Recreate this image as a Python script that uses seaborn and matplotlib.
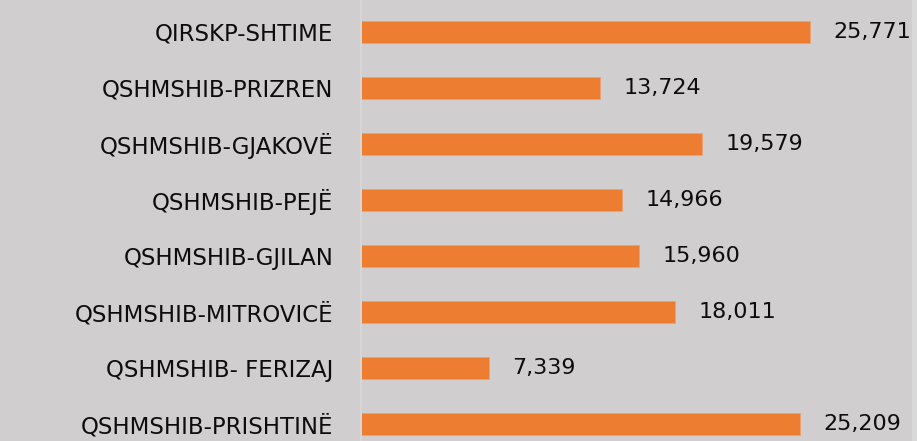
import matplotlib
matplotlib.use("Agg")
import matplotlib.pyplot as plt
import seaborn as sns
import pandas as pd
from matplotlib.patches import Rectangle

categories = [
    "QIRSKP-SHTIME",
    "QSHMSHIB-PRIZREN",
    "QSHMSHIB-GJAKOVË",
    "QSHMSHIB-PEJË",
    "QSHMSHIB-GJILAN",
    "QSHMSHIB-MITROVICË",
    "QSHMSHIB- FERIZAJ",
    "QSHMSHIB-PRISHTINË",
]
values = [25771, 13724, 19579, 14966, 15960, 18011, 7339, 25209]

BG = "#d0cece"
BAR = "#ed7d31"

sns.set_theme(style="white")
plt.rcParams["font.family"] = ["DejaVu Sans"]

df = pd.DataFrame({"cat": categories, "val": values})

fig = plt.figure(figsize=(9.17, 4.41), dpi=100, facecolor=BG)
ax = fig.add_axes([361 / 917, 0, (913 - 361) / 917, 1])
ax.set_facecolor(BG)

sns.barplot(data=df, x="val", y="cat", orient="h", color=BAR,
            width=0.4, saturation=1, ax=ax, order=categories,
            edgecolor="#f0a070", linewidth=0.6)

ax.set_xlim(0, 31690)
ax.set_ylim(7.30, -0.566)
ax.set_xlabel("")
ax.set_ylabel("")
ax.set_xticks([])
for s in ["top", "right", "bottom"]:
    ax.spines[s].set_visible(False)
ax.spines["left"].set_color("#d9d9d9")
ax.spines["left"].set_linewidth(1.3)

ax.tick_params(axis="y", length=0, pad=20, labelsize=16.5, labelcolor="#0d0d0d")

for cont in ax.containers:
    ax.bar_label(cont, labels=[f"{v:,.0f}" for v in values], padding=17,
                 fontsize=16, color="#0d0d0d")

fig.add_artist(Rectangle((912 / 917, 0), 5 / 917, 1, transform=fig.transFigure,
                         facecolor="#d9d9d9", edgecolor="none"))

fig.savefig("out.png", dpi=100, facecolor=BG)
